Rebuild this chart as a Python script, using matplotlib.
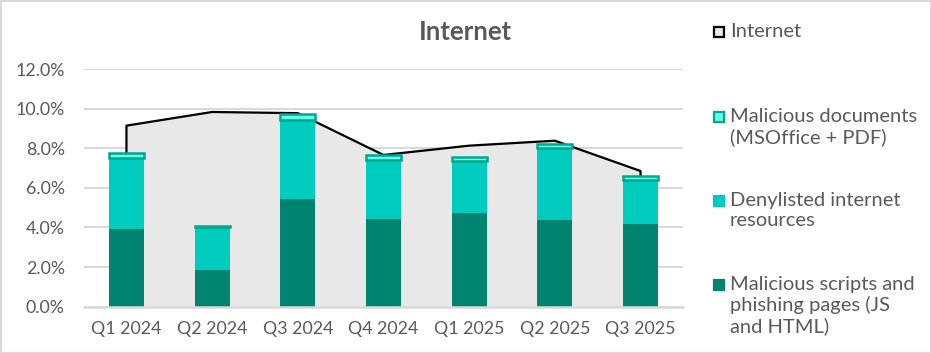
import matplotlib
matplotlib.use("Agg")
import matplotlib.pyplot as plt
from matplotlib.patches import Rectangle
from matplotlib.ticker import FuncFormatter

quarters = ["Q1 2024", "Q2 2024", "Q3 2024", "Q4 2024", "Q1 2025", "Q2 2025", "Q3 2025"]
scripts = [3.92, 1.85, 5.44, 4.43, 4.73, 4.38, 4.18]
denylisted = [3.60, 2.15, 4.01, 3.00, 2.64, 3.65, 2.24]
documents = [0.22, 0.05, 0.26, 0.22, 0.17, 0.17, 0.17]
internet = [9.14, 9.83, 9.77, 7.66, 8.13, 8.38, 6.85]

labels = ["Internet", "Malicious documents\n(MSOffice + PDF)",
          "Denylisted internet\nresources",
          "Malicious scripts and\nphishing pages (JS\nand HTML)"]

c_dark = "#008470"
c_mid = "#00CCBE"
c_cap = "#66FFEE"
c_cap_edge = "#00A88E"
c_area = "#E8E8E8"
c_text = "#595959"
c_grid = "#D9D9D9"

plt.rcParams["font.family"] = ["Lato", "DejaVu Sans"]

fig = plt.figure(figsize=(9.31, 3.53), dpi=100)
W, H = 931, 353
ax = fig.add_axes([83.6 / W, (H - 306.7) / H, 599.8 / W, 237.7 / H])

x = list(range(len(quarters)))

# area for the total "Internet" figure
ax.fill_between(x, 0, internet, color=c_area, lw=0, zorder=1)
ax.plot([x[0]] + x + [x[-1]], [0] + internet + [0], color="black", lw=1.6, zorder=1.5)

bw = 0.41
ax.bar(x, scripts, bw, color=c_dark, zorder=2)
ax.bar(x, denylisted, bw, bottom=scripts, color=c_mid, zorder=2)
tops = [a + b for a, b in zip(scripts, denylisted)]
ax.bar(x, documents, bw, bottom=tops, color=c_cap, edgecolor=c_cap_edge, lw=1.8, zorder=3)

ax.set_xlim(-0.5, len(quarters) - 0.5)
ax.set_ylim(0, 12)
ax.set_yticks(range(0, 13, 2))
ax.yaxis.set_major_formatter(FuncFormatter(lambda v, p: f"{v:.1f}%"))
ax.set_xticks(x)
ax.set_xticklabels(quarters)
ax.grid(axis="y", color=c_grid, lw=1.5, zorder=0)
ax.set_axisbelow(True)
for s in ["top", "right", "left"]:
    ax.spines[s].set_visible(False)
ax.spines["bottom"].set_color(c_grid)
ax.spines["bottom"].set_linewidth(1.8)
ax.spines["bottom"].set_zorder(4)
ax.tick_params(length=0, labelsize=12.8, colors=c_text, pad=10)
ax.tick_params(axis="y", pad=13.5)

fig.text(465.5 / W, 1 - 31.7 / H, "Internet", ha="center", va="center",
         fontsize=18.5, fontweight="bold", color=c_text)

# legend drawn by hand so the marker sits next to the first line
leg_y = [32, 117, 201, 285]
styles = [(c_area, "black"), (c_cap, c_cap_edge), (c_mid, c_mid), (c_dark, c_dark)]
for yy, lab, (fc, ec) in zip(leg_y, labels, styles):
    fig.patches.append(Rectangle(((714) / W, 1 - (yy + 5) / H), 10 / W, 10 / H,
                                 facecolor=fc, edgecolor=ec, lw=1.6,
                                 transform=fig.transFigure, figure=fig))
    fig.text(730 / W, 1 - (yy - 9) / H, lab, ha="left", va="top", fontsize=14.5,
             color=c_text, linespacing=1.2)

fig.patches.append(Rectangle((0.5 / W, 0.5 / H), 1 - 1 / W, 1 - 1 / H, fill=False,
                             edgecolor=c_grid, lw=1.5, transform=fig.transFigure, figure=fig))

fig.savefig("out.png", dpi=100)
